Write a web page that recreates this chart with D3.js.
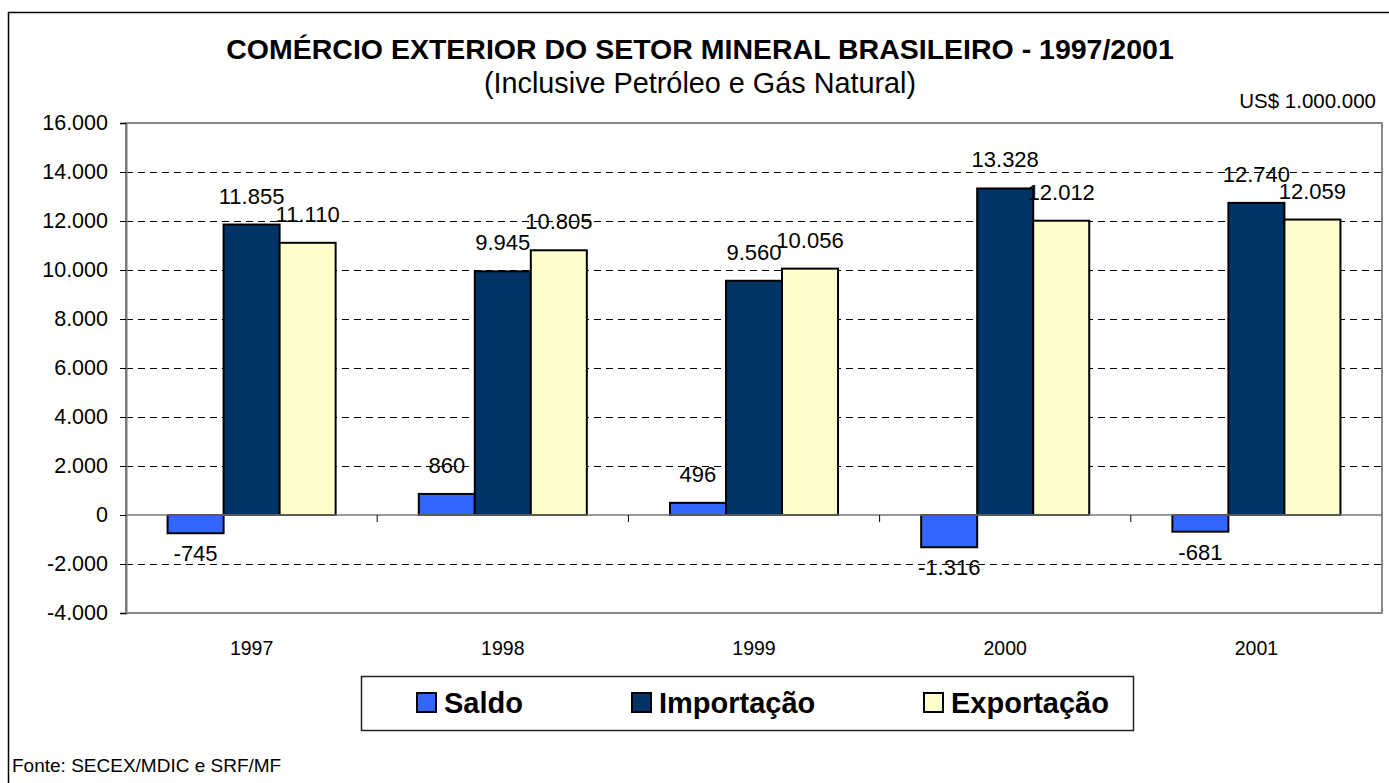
<!DOCTYPE html>
<html>
<head>
<meta charset="utf-8">
<script src="https://cdn.jsdelivr.net/npm/d3@7"></script>
<style>
  body { margin: 0; background: #fff; }
  svg { display: block; font-family: "Liberation Sans", Arial, sans-serif; }
</style>
</head>
<body>
<div id="chart"></div>
<script>
// dados (US$ 1.000.000)
var anos = ['1997', '1998', '1999', '2000', '2001'];
var series = ['Saldo', 'Importação', 'Exportação'];
var saldo = [-745, 860, 496, -1316, -681];
var importacao = [11855, 9945, 9560, 13328, 12740];
var exportacao = [11110, 10805, 10056, 12012, 12059];
var yTicks = [-4000, -2000, 0, 2000, 4000, 6000, 8000, 10000, 12000, 14000, 16000];
var cores = ['#3366FF', '#003366', '#FFFFCC'];

(function () {
    var valores = [saldo, importacao, exportacao];

    var W = 1389, H = 783;
    var fmtBase = d3.formatLocale({decimal: ',', thousands: '.', grouping: [3], currency: ['US$ ', ''], minus: '-'}).format(',d');
    var fmt = v => fmtBase(v);

    var svg = d3.select('#chart').append('svg')
        .attr('width', W)
        .attr('height', H);

    // moldura externa
    svg.append('rect')
        .attr('x', 8.5).attr('y', 12.5)
        .attr('width', 1400).attr('height', 800)
        .attr('fill', 'none')
        .attr('stroke', '#000')
        .attr('stroke-width', 1.5);

    // titulos
    svg.append('text')
        .attr('x', 700).attr('y', 59)
        .attr('text-anchor', 'middle')
        .style('font-size', '28.5px')
        .style('font-weight', 'bold')
        .text('COMÉRCIO EXTERIOR DO SETOR MINERAL BRASILEIRO - 1997/2001');

    svg.append('text')
        .attr('x', 700).attr('y', 93)
        .attr('text-anchor', 'middle')
        .style('font-size', '28.8px')
        .text('(Inclusive Petróleo e Gás Natural)');

    svg.append('text')
        .attr('x', 1376).attr('y', 108)
        .attr('text-anchor', 'end')
        .style('font-size', '20.5px')
        .text('US$ 1.000.000');

    var x_esq = 126, x_dir = 1382, y_topo = 123, y_base = 613;

    var x0 = d3.scaleBand()
        .domain(anos)
        .range([x_esq, x_dir])
        .paddingInner(0.331)
        .paddingOuter(0.1655);

    var x1 = d3.scaleBand()
        .domain(series)
        .range([0, x0.bandwidth()]);

    var y = d3.scaleLinear()
        .domain([-4000, 16000])
        .range([y_base, y_topo]);

    // grade tracejada
    svg.append('g').selectAll('line')
        .data(yTicks.filter(d => d != 0 && d != 16000 && d != -4000))
        .enter().append('line')
        .attr('x1', x_esq).attr('x2', x_dir)
        .attr('y1', d => y(d) + 0.5).attr('y2', d => y(d) + 0.5)
        .attr('stroke', '#000')
        .attr('stroke-width', 1)
        .attr('stroke-dasharray', '7,5');

    // area do grafico
    svg.append('rect')
        .attr('x', x_esq).attr('y', y_topo)
        .attr('width', x_dir - x_esq).attr('height', y_base - y_topo)
        .attr('fill', 'none')
        .attr('stroke', '#888')
        .attr('stroke-width', 2);

    // eixo y
    var yAxis = svg.append('g')
        .attr('transform', 'translate(' + x_esq + ',0)')
        .call(d3.axisLeft(y).tickValues(yTicks).tickSize(6).tickPadding(12).tickFormat(fmt));
    yAxis.select('.domain').attr('stroke', '#777').attr('stroke-width', 2);
    yAxis.selectAll('.tick line').attr('stroke', '#000');
    yAxis.selectAll('text')
        .style('font-size', '21.5px')
        .style('font-family', '"Liberation Sans", Arial, sans-serif')
        .attr('fill', '#000');

    // barras
    var grupos = svg.append('g').selectAll('g')
        .data(anos)
        .enter().append('g')
        .attr('transform', d => 'translate(' + x0(d) + ',0)');

    grupos.selectAll('rect')
        .data((d, i) => series.map((s, j) => ({s: s, j: j, v: valores[j][i]})))
        .enter().append('rect')
        .attr('x', d => x1(d.s))
        .attr('width', x1.bandwidth())
        .attr('y', d => y(Math.max(0, d.v)))
        .attr('height', d => Math.abs(y(d.v) - y(0)))
        .attr('fill', d => cores[d.j])
        .attr('stroke', '#000')
        .attr('stroke-width', 2);

    // linha do zero
    svg.append('line')
        .attr('x1', x_esq).attr('x2', x_dir)
        .attr('y1', y(0)).attr('y2', y(0))
        .attr('stroke', '#777')
        .attr('stroke-width', 1.5);

    // marcas das categorias
    var limites = d3.range(anos.length + 1).map(i => x_esq + i * x0.step());
    svg.append('g').selectAll('line')
        .data(limites.slice(1, -1))
        .enter().append('line')
        .attr('x1', d => d).attr('x2', d => d)
        .attr('y1', y(0)).attr('y2', y(0) + 7)
        .attr('stroke', '#000');

    // rotulos das categorias
    svg.append('g').selectAll('text')
        .data(anos)
        .enter().append('text')
        .attr('x', d => x0(d) + x0.bandwidth() / 2)
        .attr('y', 655)
        .attr('text-anchor', 'middle')
        .style('font-size', '19.5px')
        .text(d => d);

    // rotulos dos valores
    grupos.selectAll('text')
        .data((d, i) => series.map((s, j) => ({s: s, j: j, v: valores[j][i]})))
        .enter().append('text')
        .attr('x', d => x1(d.s) + x1.bandwidth() / 2)
        .attr('y', d => d.v >= 0 ? y(d.v) - 21 : y(d.v) + 28)
        .attr('text-anchor', 'middle')
        .style('font-size', '22px')
        .text(d => fmt(d.v));

    // legenda
    var leg = svg.append('g');
    leg.append('rect')
        .attr('x', 361.5).attr('y', 676.5)
        .attr('width', 772).attr('height', 54)
        .attr('fill', '#fff')
        .attr('stroke', '#222')
        .attr('stroke-width', 1.5);

    var legX = [417, 632, 924];
    var itens = leg.selectAll('g')
        .data(series)
        .enter().append('g')
        .attr('transform', (d, i) => 'translate(' + legX[i] + ',693)');
    itens.append('rect')
        .attr('width', 19).attr('height', 19)
        .attr('fill', (d, i) => cores[i])
        .attr('stroke', '#000')
        .attr('stroke-width', 2);
    itens.append('text')
        .attr('x', 27).attr('y', 20)
        .style('font-size', '29px')
        .style('font-weight', 'bold')
        .text(d => d);

    // fonte
    svg.append('text')
        .attr('x', 12).attr('y', 772)
        .style('font-size', '19px')
        .text('Fonte: SECEX/MDIC e SRF/MF');
})();
</script>
</body>
</html>
